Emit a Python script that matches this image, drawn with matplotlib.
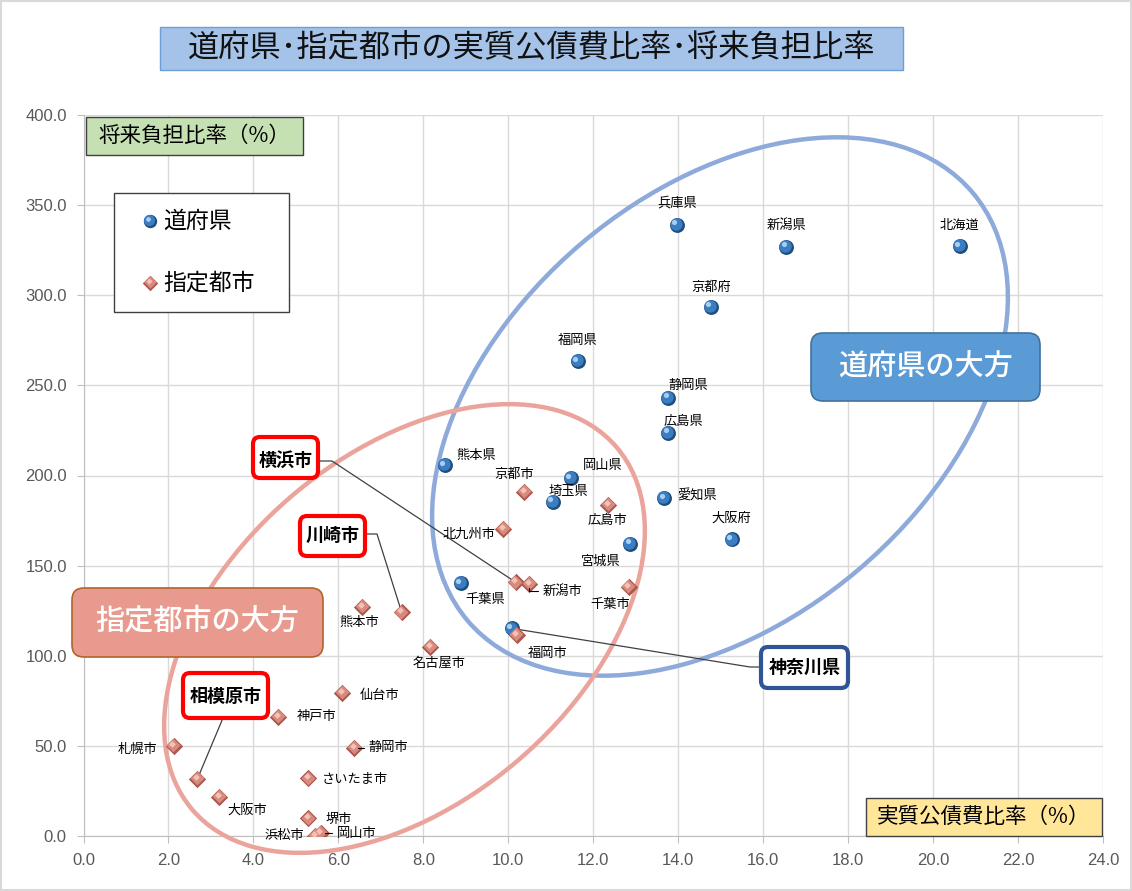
import matplotlib
matplotlib.use('Agg')
import matplotlib.pyplot as plt
from matplotlib.patches import Ellipse, FancyBboxPatch, Rectangle
from matplotlib.lines import Line2D
from matplotlib.transforms import IdentityTransform, offset_copy

plt.rcParams['font.family'] = ['Noto Sans CJK JP', 'DejaVu Sans']

# ---------------- data ----------------
pref_names = ['兵庫県', '新潟県', '北海道', '京都府', '福岡県', '静岡県', '広島県', '熊本県',
              '岡山県', '埼玉県', '愛知県', '宮城県', '大阪府', '千葉県', '神奈川県']
pref_x = [13.97, 16.54, 20.63, 14.77, 11.64, 13.76, 13.76, 8.51,
          11.47, 11.05, 13.67, 12.87, 15.26, 8.88, 10.08]
pref_y = [339.0, 326.8, 327.3, 293.5, 263.5, 243.0, 223.6, 205.8,
          198.6, 185.3, 187.5, 162.0, 164.6, 140.2, 115.2]

city_names = ['京都市', '広島市', '北九州市', '横浜市', '新潟市', '千葉市', '福岡市', '名古屋市',
              '熊本市', '川崎市', '仙台市', '神戸市', '札幌市', '静岡市', 'さいたま市', '相模原市',
              '大阪市', '堺市', '浜松市', '岡山市']
city_x = [10.37, 12.35, 9.88, 10.18, 10.49, 12.84, 10.20, 8.16,
          6.56, 7.49, 6.09, 4.59, 2.13, 6.37, 5.29, 2.68,
          3.20, 5.29, 5.45, 5.58]
city_y = [191.0, 183.6, 170.3, 140.7, 139.8, 138.3, 111.5, 104.7,
          127.2, 124.1, 79.2, 66.2, 49.9, 49.0, 32.0, 31.6,
          21.5, 9.8, 0.0, 1.5]

x_ticks = [0, 2, 4, 6, 8, 10, 12, 14, 16, 18, 20, 22, 24]
y_ticks = [0, 50, 100, 150, 200, 250, 300, 350, 400]

title = '道府県･指定都市の実質公債費比率･将来負担比率'
ylabel = '将来負担比率（%）'
xlabel = '実質公債費比率（%）'
legend_labels = ['道府県', '指定都市']

# ---------------- layout (label offsets in pixels) ----------------
pref_off = {'兵庫県': (0, 22), '新潟県': (0, 22), '北海道': (0, 21), '京都府': (0, 20),
            '福岡県': (0, 21), '静岡県': (20, 13), '広島県': (15, 11), '熊本県': (31, 10),
            '岡山県': (32, 13), '埼玉県': (16, 10), '愛知県': (33, 2), '宮城県': (-29, -17),
            '大阪府': (0, 21), '千葉県': (24, -16)}
city_off = {'京都市': (-10, 17), '広島市': (-1, -15), '北九州市': (-34, -5), '新潟市': (33, -7),
            '千葉市': (-19, -18), '福岡市': (31, -18), '名古屋市': (9, -16), '熊本市': (-3, -16),
            '仙台市': (37, -2), '神戸市': (38, 0), '札幌市': (-36, -3), '静岡市': (34, 0),
            'さいたま市': (47, -1), '大阪市': (28, -13), '堺市': (31, -1), '浜松市': (-31, 1),
            '岡山市': (36, 0)}
leader_small = {'新潟市', '静岡市', '岡山市'}

W, H = 1132, 891
fig = plt.figure(figsize=(W / 100, H / 100), dpi=100)
fig.patch.set_facecolor('white')
ID = IdentityTransform()

x0p, x1p, y0p, y1p = 83.5, 1103, 836, 115
ax = fig.add_axes([x0p / W, 1 - y0p / H, (x1p - x0p) / W, (y0p - y1p) / H])
ax.set_xlim(0, 24)
ax.set_ylim(0, 400)
ax.set_xticks(x_ticks)
ax.set_xticklabels([f'{v:.1f}' for v in x_ticks])
ax.set_yticks(y_ticks)
ax.set_yticklabels([f'{v:.1f}' for v in y_ticks])
ax.grid(True, color='#d9d9d9', lw=1)
ax.set_axisbelow(True)
for s in ['top', 'right']:
    ax.spines[s].set_visible(False)
for s in ['left', 'bottom']:
    ax.spines[s].set_color('#bfbfbf')
ax.tick_params(length=5, color='#bfbfbf', labelcolor='#595959', labelsize=11, pad=7)
for lab in ax.get_xticklabels() + ax.get_yticklabels():
    lab.set_family(['Liberation Sans Narrow', 'Liberation Sans', 'DejaVu Sans'])
    lab.set_fontsize(12)


def draw_spheres(x, y, transform=None, z=5, scale=1.0, **kw):
    t = transform if transform is not None else ax.transData
    ax.scatter(x, y, s=115 * scale, c='#1f4e79', lw=0, zorder=z, transform=t, **kw)
    ax.scatter(x, y, s=80 * scale, c='#3a7dc2', lw=0, zorder=z + 1,
               transform=offset_copy(t, fig, x=-0.8, y=0.8, units='dots'), **kw)
    ax.scatter(x, y, s=14 * scale, c='#a9cdef', lw=0, zorder=z + 2,
               transform=offset_copy(t, fig, x=-2.5, y=2.5, units='dots'), **kw)


def draw_diamonds(x, y, transform=None, z=5, scale=1.0, **kw):
    t = transform if transform is not None else ax.transData
    ax.scatter(x, y, s=78 * scale, marker='D', c='#a9584d', lw=0, zorder=z, transform=t, **kw)
    ax.scatter(x, y, s=50 * scale, marker='D', c='#d98a7d', lw=0, zorder=z + 1,
               transform=offset_copy(t, fig, x=-0.5, y=0.8, units='dots'), **kw)
    ax.scatter(x, y, s=12 * scale, marker='D', c='#f2c2b8', lw=0, zorder=z + 2,
               transform=offset_copy(t, fig, x=-1.5, y=2.0, units='dots'), **kw)


draw_spheres(pref_x, pref_y)
draw_diamonds(city_x, city_y)

# data labels
for n, x, y in zip(pref_names, pref_x, pref_y):
    if n in pref_off:
        ax.annotate(n, (x, y), xytext=pref_off[n], textcoords='offset pixels',
                    ha='center', va='center', fontsize=9.5, zorder=8)
for n, x, y in zip(city_names, city_x, city_y):
    if n in city_off:
        kw = {}
        if n in leader_small:
            kw['arrowprops'] = dict(arrowstyle='-', color='black', lw=0.8,
                                    shrinkA=1, shrinkB=3, relpos=(0, 0.5),
                                    connectionstyle='angle,angleA=0,angleB=90,rad=0')
        ax.annotate(n, (x, y), xytext=city_off[n], textcoords='offset pixels',
                    ha='center', va='center', fontsize=9.5, zorder=8, **kw)

# ellipses (pixel space)
ax.add_patch(Ellipse((720, H - 406.5), 662, 428, angle=40.3, fill=False,
                     ec='#8eaadb', lw=3.2, transform=ID, clip_on=False, zorder=3))
ax.add_patch(Ellipse((404.5, H - 628.5), 558, 348, angle=40.5, fill=False,
                     ec='#eba49b', lw=3.2, transform=ID, clip_on=False, zorder=3))


def box(x0, y0, x1, y1, fc, ec, lw, rnd=0, z=10):
    style = f'round,pad=0,rounding_size={rnd}' if rnd else 'square,pad=0'
    p = FancyBboxPatch((x0, H - y1), x1 - x0, y1 - y0, boxstyle=style, fc=fc, ec=ec,
                       lw=lw, transform=ID, zorder=z)
    fig.add_artist(p)


def ftext(x, y, s, **kw):
    fig.text(x / W, 1 - y / H, s, ha='center', va='center', zorder=11, **kw)


def marker_px(x, y):
    return ax.transData.transform((x, y))


# leader lines for highlighted names
def leader(pts):
    xs = [p[0] for p in pts]
    ys = [p[1] for p in pts]
    ax.add_line(Line2D(xs, ys, transform=ID, color='#404040', lw=0.9,
                       clip_on=False, zorder=4))


i = city_names.index('横浜市')
mx, my = marker_px(city_x[i], city_y[i])
leader([(318, H - 461), (332, H - 461), (mx, my)])
i = city_names.index('川崎市')
mx, my = marker_px(city_x[i], city_y[i])
leader([(365, H - 534), (377, H - 534), (mx, my)])
i = city_names.index('相模原市')
mx, my = marker_px(city_x[i], city_y[i])
leader([(223, H - 718), (mx, my)])
i = pref_names.index('神奈川県')
mx, my = marker_px(pref_x[i], pref_y[i])
leader([(mx, my), (750, H - 667), (761, H - 667)])

# title
box(160, 27, 903, 70, '#a5c3e9', '#6d9fd6', 1.0)
ftext(531.5, 48, title, fontsize=22.5, color='#111111')

# axis label boxes
box(86, 117, 303, 155, '#c5e0b3', '#404040', 1.0)
ftext(194.5, 136, ylabel, fontsize=15.5)
box(866, 798, 1102, 836, '#ffe699', '#404040', 1.0)
ftext(984, 817, xlabel, fontsize=15.5)

# legend (box inside the axes so the markers can sit on top of it)
ax.add_patch(FancyBboxPatch((114, H - 312), 175, 119, boxstyle='square,pad=0',
                            fc='white', ec='#404040', lw=1.0, transform=ID,
                            clip_on=False, zorder=20))
draw_spheres([150], [H - 221], transform=ID, z=21, scale=0.8, clip_on=False)
draw_diamonds([150], [H - 283], transform=ID, z=21, scale=0.8, clip_on=False)
fig.text(163 / W, 1 - 221 / H, legend_labels[0], ha='left', va='center', fontsize=16.5, zorder=11)
fig.text(163 / W, 1 - 283 / H, legend_labels[1], ha='left', va='center', fontsize=16.5, zorder=11)

# group callouts
box(811, 333, 1040, 401, '#5b9bd5', '#41719c', 1.2, rnd=12)
ftext(925.5, 366, '道府県の大方', fontsize=21, color='white', weight='medium')
box(72, 588, 323, 657, '#e99a8f', '#b0652b', 1.2, rnd=12)
ftext(197.5, 621, '指定都市の大方', fontsize=21, color='white', weight='medium')

# highlighted name boxes
box(253, 437, 318, 478, 'white', '#ff0000', 3.0, rnd=7)
ftext(285.5, 460, '横浜市', fontsize=13, weight='bold')
box(300, 516, 365, 556, 'white', '#ff0000', 3.0, rnd=7)
ftext(332.5, 535, '川崎市', fontsize=13, weight='bold')
box(183, 673, 268, 718, 'white', '#ff0000', 3.0, rnd=7)
ftext(225.5, 696, '相模原市', fontsize=13, weight='bold')
box(761, 647, 848, 688, 'white', '#2f5597', 3.0, rnd=7)
ftext(804.5, 667, '神奈川県', fontsize=13, weight='bold')

# outer border
fig.add_artist(Rectangle((1, 1), W - 2, H - 2, fill=False, ec='#d9d9d9', lw=1.5,
                         transform=ID, zorder=20))

fig.savefig('out.png', dpi=100)
